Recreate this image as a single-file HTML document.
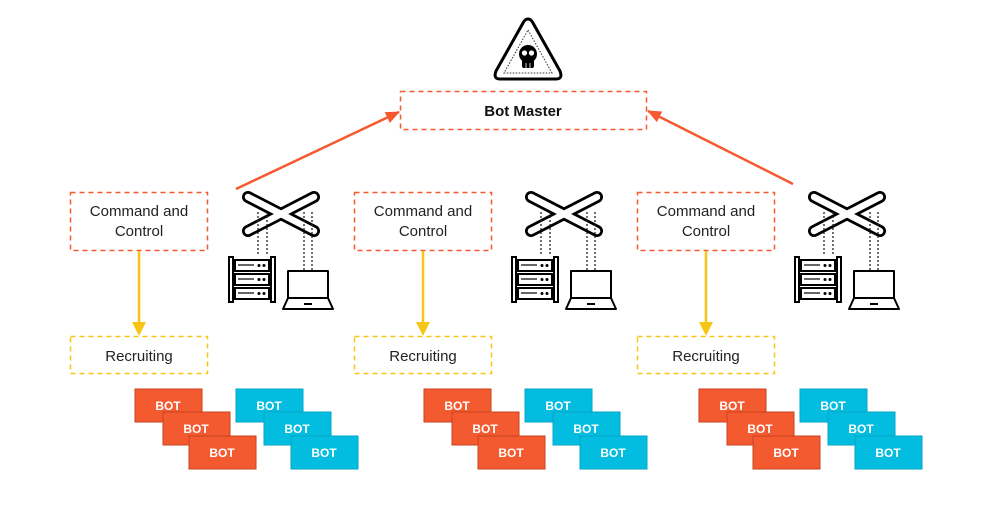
<!DOCTYPE html>
<html><head><meta charset="utf-8"><style>
html,body{margin:0;padding:0;background:#fff;}
svg{display:block;font-family:"Liberation Sans",Arial,sans-serif;}
</style></head><body>
<svg width="997" height="520" viewBox="0 0 997 520" xmlns="http://www.w3.org/2000/svg">
<defs>
<marker id="ao" markerWidth="14" markerHeight="12" refX="13" refY="6" orient="auto" markerUnits="userSpaceOnUse"><path d="M0,0 L14,6 L0,12 z" fill="#f4592f"/></marker>
<g id="net">
  <g stroke="#000" stroke-width="12" stroke-linecap="round"><line x1="6" y1="5" x2="72" y2="39"/><line x1="6" y1="39" x2="72" y2="5"/></g>
  <g stroke="#fff" stroke-width="6.5" stroke-linecap="round"><line x1="6" y1="5" x2="72" y2="39"/><line x1="6" y1="39" x2="72" y2="5"/></g>
  <g stroke="#222" stroke-width="1.3" stroke-dasharray="2,2"><line x1="16" y1="20" x2="16" y2="64"/><line x1="25" y1="20" x2="25" y2="64"/><line x1="62" y1="20" x2="62" y2="78"/><line x1="70" y1="20" x2="70" y2="78"/></g>
  <g fill="#fff" stroke="#000" stroke-width="2">
    <rect x="-13" y="65" width="4" height="45"/><rect x="29" y="65" width="4" height="45"/>
    <rect x="-7" y="68" width="34" height="11"/><rect x="-7" y="82" width="34" height="11"/><rect x="-7" y="96" width="34" height="11"/>
  </g>
  <g stroke="#000" stroke-width="1.2"><line x1="-4" y1="73" x2="12" y2="73"/><line x1="-4" y1="87" x2="12" y2="87"/><line x1="-4" y1="101" x2="12" y2="101"/></g>
  <g fill="#000"><circle cx="17" cy="73.5" r="1.5"/><circle cx="22" cy="73.5" r="1.5"/><circle cx="17" cy="87.5" r="1.5"/><circle cx="22" cy="87.5" r="1.5"/><circle cx="17" cy="101.5" r="1.5"/><circle cx="22" cy="101.5" r="1.5"/></g>
  <g fill="#fff" stroke="#000" stroke-width="2" stroke-linejoin="round">
    <rect x="46" y="79" width="40" height="27"/><path d="M46,106 L86,106 L91,117 L41,117 Z"/>
  </g>
  <line x1="62" y1="112" x2="70" y2="112" stroke="#000" stroke-width="2"/>
</g>
<g id="bots">
  <g font-size="12" font-weight="bold" fill="#fff" text-anchor="middle">
    <rect x="0" y="0" width="67" height="33" fill="#f45a2f" stroke="#c9421f"/><text x="33" y="21">BOT</text>
    <rect x="28" y="23" width="67" height="33" fill="#f45a2f" stroke="#c9421f"/><text x="61" y="44">BOT</text>
    <rect x="54" y="47" width="67" height="33" fill="#f45a2f" stroke="#c9421f"/><text x="87" y="68">BOT</text>
    <rect x="101" y="0" width="67" height="33" fill="#02bde0" stroke="#02a6c6"/><text x="134" y="21">BOT</text>
    <rect x="129" y="23" width="67" height="33" fill="#02bde0" stroke="#02a6c6"/><text x="162" y="44">BOT</text>
    <rect x="156" y="47" width="67" height="33" fill="#02bde0" stroke="#02a6c6"/><text x="189" y="68">BOT</text>
  </g>
</g>
<g id="cc">
  <rect x="0.5" y="0.5" width="137" height="58" fill="#fff" stroke="#f4592f" stroke-width="1.5" stroke-dasharray="5,4"/>
  <text x="69" y="24" font-size="15" text-anchor="middle" fill="#222">Command and</text>
  <text x="69" y="44" font-size="15" text-anchor="middle" fill="#222">Control</text>
  <line x1="69" y1="59" x2="69" y2="132" stroke="#f7c516" stroke-width="2.5"/>
  <path d="M62,130 L69,144 L76,130 Z" fill="#f7c516"/>
  <rect x="0.5" y="144.5" width="137" height="37" fill="#fff" stroke="#f7c516" stroke-width="1.5" stroke-dasharray="5,4"/>
  <text x="69" y="169" font-size="15" text-anchor="middle" fill="#222">Recruiting</text>
</g>
</defs>

<path d="M528,19 Q531,19 533,23 L560,71 Q563,79 556,79 L500,79 Q493,79 496,71 L523,23 Q525,19 528,19 Z" fill="#fff" stroke="#000" stroke-width="3"/>
<path d="M528,30 L552,73 L504,73 Z" fill="none" stroke="#333" stroke-width="1" stroke-dasharray="1.5,1.5"/>
<circle cx="528" cy="54" r="9" fill="#000"/><rect x="522" y="59" width="12" height="9" rx="2" fill="#000"/>
<circle cx="524.5" cy="53" r="2.6" fill="#fff"/><circle cx="531.5" cy="53" r="2.6" fill="#fff"/>
<line x1="526" y1="63" x2="526" y2="68" stroke="#fff" stroke-width="0.8"/><line x1="530" y1="63" x2="530" y2="68" stroke="#fff" stroke-width="0.8"/>

<rect x="400.5" y="91.5" width="246" height="38" fill="#fff" stroke="#f4592f" stroke-width="1.5" stroke-dasharray="5,4"/>
<text x="523" y="116" font-size="15" font-weight="bold" text-anchor="middle" fill="#111">Bot Master</text>

<line x1="236" y1="189" x2="399" y2="112" stroke="#f4592f" stroke-width="2.5" marker-end="url(#ao)"/>
<line x1="793" y1="184" x2="648" y2="111" stroke="#f4592f" stroke-width="2.5" marker-end="url(#ao)"/>

<use href="#cc" x="70" y="192"/>
<use href="#cc" x="354" y="192"/>
<use href="#cc" x="637" y="192"/>

<use href="#net" x="242" y="192"/>
<use href="#net" x="525" y="192"/>
<use href="#net" x="808" y="192"/>

<use href="#bots" x="135" y="389"/>
<use href="#bots" x="424" y="389"/>
<use href="#bots" x="699" y="389"/>
</svg>
</body></html>
